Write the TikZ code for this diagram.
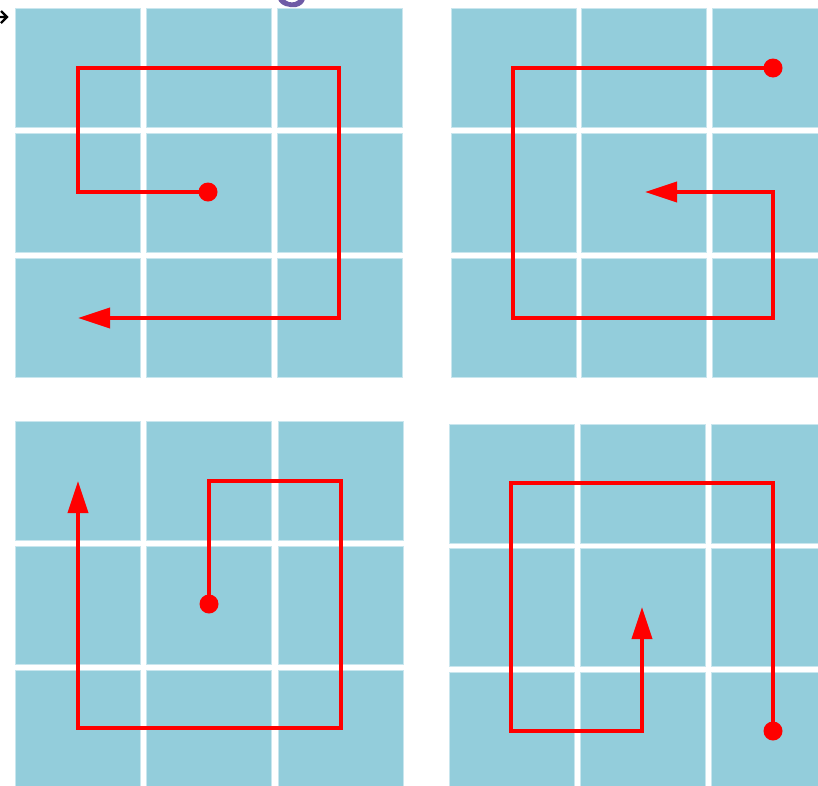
\documentclass[tikz,border=0pt]{standalone}
\usetikzlibrary{arrows.meta}
\definecolor{cellblue}{HTML}{93CDDB}
\definecolor{celledge}{HTML}{C9E6EE}
\definecolor{pathred}{HTML}{FF0000}
\definecolor{glyphpurple}{HTML}{6E5BA6}
\tikzset{
  cell/.style={fill=cellblue,draw=celledge,line width=0.6pt},
  route/.style={draw=pathred,line width=3.6pt,line join=miter},
  routearrow/.style={route,-{Triangle[length=32pt,width=20pt]}},
  startdot/.style={circle,fill=pathred,inner sep=0pt,minimum size=19pt},
}
\begin{document}
\begin{tikzpicture}[x=1pt,y=-1pt]
\useasboundingbox (0,0) rectangle (818,785);
\fill[white] (0,0) rectangle (818,785);
\begin{scope}
\clip (0,0) rectangle (818,785);
% top-left panel
\foreach \cx in {15,146,277}{\foreach \ry in {8,133,258}{
  \path[cell] (\cx,\ry) rectangle ++(125,119);}}
% top-right panel
\foreach \cx in {451,581,712}{\foreach \ry in {8,133,258}{
  \path[cell] (\cx,\ry) rectangle ++(125,119);}}
% bottom-left panel
\foreach \cx in {15,146,278}{
  \path[cell] (\cx,421) rectangle ++(125,119);
  \path[cell] (\cx,546) rectangle ++(125,118);
  \path[cell] (\cx,670) rectangle ++(125,117);}
% bottom-right panel
\foreach \cx in {449,580,711}{
  \path[cell] (\cx,424) rectangle ++(125,119);
  \path[cell] (\cx,548) rectangle ++(125,118);
  \path[cell] (\cx,672) rectangle ++(125,117);}
% clipped fragments at the top edge
\fill[glyphpurple] (278,-1) .. controls (280,6) and (290,8) .. (296,7)
  .. controls (301,6) and (304,3) .. (305,-1) -- (299,-1)
  .. controls (297,2) and (293,3) .. (289,2) .. controls (286,1) and (285,0) .. (285,-1) -- cycle;
\draw[black,line width=2.2pt] (0,17) -- (6,17) (1,11) -- (7,17) -- (1,23);
\end{scope}

% ---- top-left route
\node[startdot] (tlS) at (208,192) {};
\coordinate (tlA) at (78,192);
\coordinate (tlB) at (78,68);
\coordinate (tlC) at (339,68);
\coordinate (tlD) at (339,318);
\coordinate (tlE) at (78,318);
\draw[routearrow] (tlS.center) -- (tlA) -- (tlB) -- (tlC) -- (tlD) -- (tlE);

% ---- top-right route
\node[startdot] (trS) at (773,68) {};
\coordinate (trA) at (513,68);
\coordinate (trB) at (513,318);
\coordinate (trC) at (773,318);
\coordinate (trD) at (773,192);
\coordinate (trE) at (645,192);
\draw[routearrow] (trS.center) -- (trA) -- (trB) -- (trC) -- (trD) -- (trE);

% ---- bottom-left route
\node[startdot] (blS) at (209,604) {};
\coordinate (blA) at (209,481);
\coordinate (blB) at (341,481);
\coordinate (blC) at (341,728);
\coordinate (blD) at (78,728);
\coordinate (blE) at (78,481);
\draw[routearrow] (blS.center) -- (blA) -- (blB) -- (blC) -- (blD) -- (blE);

% ---- bottom-right route
\node[startdot] (brS) at (773,731) {};
\coordinate (brA) at (773,483);
\coordinate (brB) at (511,483);
\coordinate (brC) at (511,731);
\coordinate (brD) at (642,731);
\coordinate (brE) at (642,607);
\draw[routearrow] (brS.center) -- (brA) -- (brB) -- (brC) -- (brD) -- (brE);
\end{tikzpicture}
\end{document}
